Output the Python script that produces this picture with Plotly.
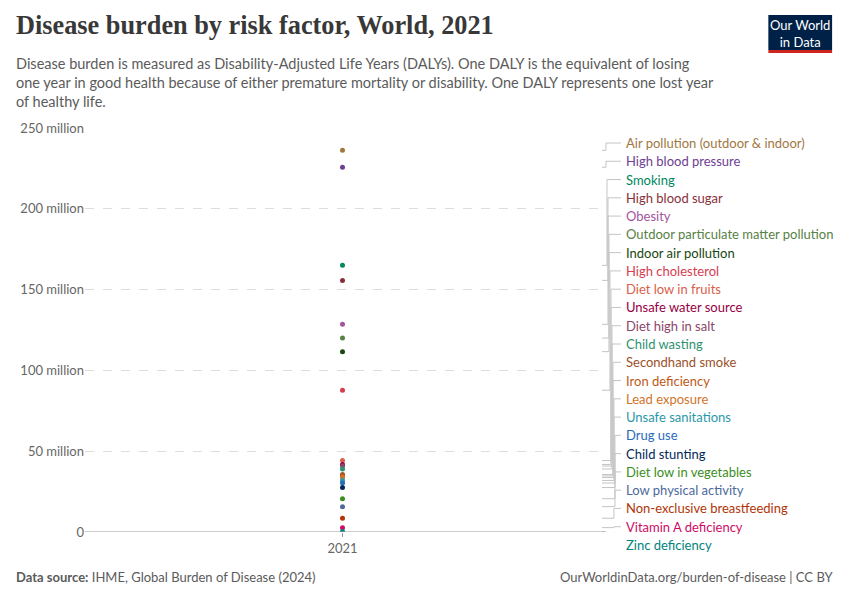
import plotly.graph_objects as go

# ---- data ----
years = ["2021"]
risk_factors = [
    "Air pollution (outdoor & indoor)", "High blood pressure", "Smoking", "High blood sugar",
    "Obesity", "Outdoor particulate matter pollution", "Indoor air pollution", "High cholesterol",
    "Diet low in fruits", "Unsafe water source", "Diet high in salt", "Child wasting",
    "Secondhand smoke", "Iron deficiency", "Lead exposure", "Unsafe sanitations", "Drug use",
    "Child stunting", "Diet low in vegetables", "Low physical activity",
    "Non-exclusive breastfeeding", "Vitamin A deficiency", "Zinc deficiency",
]
dalys_2021 = [
    236.2e6, 225.7e6, 165.0e6, 155.7e6,
    128.5e6, 120.0e6, 111.6e6, 87.7e6,
    44.2e6, 41.8e6, 40.8e6, 39.0e6,
    35.6e6, 34.7e6, 33.7e6, 31.9e6, 30.3e6,
    27.5e6, 20.6e6, 15.7e6,
    8.5e6, 2.7e6, 0.3e6,
]
colors = [
    "#a0773f", "#6D3E91", "#00875E", "#883039",
    "#A2559C", "#578145", "#18470F", "#D73C50",
    "#d9604a", "#970046", "#8C4569", "#2f9170",
    "#9A5129", "#C05917", "#D0742C", "#2a98a8", "#286BBB",
    "#00295B", "#3B8E1D", "#4C6A9C",
    "#B13507", "#CF0A66", "#00847E",
]
y_ticks = [0, 50e6, 100e6, 150e6, 200e6, 250e6]
y_tick_labels = ["0", "50 million", "100 million", "150 million", "200 million", "250 million"]

# ---- layout geometry (screen pixels; page body has an 8px margin) ----
W, H = 850, 600
OFF = 8
L, R, T, B = 83, 600, 128, 532
YMAX = 250e6


def px(p):
    return (p - L) / (R - L)


def py(p):
    return (B - p) / (B - T)


fig = go.Figure()
for name, val, col in zip(risk_factors, dalys_2021, colors):
    fig.add_trace(go.Scatter(
        x=years, y=[val], mode="markers", name=name,
        marker=dict(color=col, size=5), showlegend=False,
        hovertemplate=name + ": %{y:.3s}<extra></extra>",
    ))

# label positions and connectors
n = len(risk_factors)
label_top, label_bot = 143, 545
step = (label_bot - label_top) / (n - 1)
shapes = []
annotations = []
elbow_x = [606, 606, 607, 608, 608, 609, 609, 610, 611, 611, 612, 612, 613, 613, 614, 614, 615,
           615, 615, 615, 614, 614, 606]
for i, (name, val, col) in enumerate(zip(risk_factors, dalys_2021, colors)):
    ly_px = label_top + i * step
    ly_data = py(ly_px) * YMAX
    ex = px(elbow_x[i])
    path = f"M {px(602)},{val} L {ex},{val} L {ex},{ly_data} L {px(621)},{ly_data}"
    shapes.append(dict(type="path", xref="paper", yref="y", path=path,
                       line=dict(color="#c4c4c4", width=1), layer="below"))
    annotations.append(dict(xref="paper", yref="paper", x=px(624), y=py(ly_px), text=name,
                            showarrow=False, xanchor="left", yanchor="middle",
                            font=dict(family="Lato", size=13, color=col)))

# baseline
shapes.append(dict(type="line", xref="paper", yref="y", x0=0, x1=px(603), y0=0, y1=0,
                   line=dict(color="#9a9a9a", width=1)))

# title, subtitle
annotations.append(dict(xref="paper", yref="paper", x=px(12), y=py(25), xanchor="left", yanchor="middle",
                        text="<b>Disease burden by risk factor, World, 2021</b>", showarrow=False,
                        font=dict(family="Liberation Serif", size=26.3, color="#383838")))
subtitle = ("Disease burden is measured as Disability-Adjusted Life Years (DALYs). One DALY is the equivalent of losing<br>"
            "one year in good health because of either premature mortality or disability. One DALY represents one lost year<br>"
            "of healthy life.")
annotations.append(dict(xref="paper", yref="paper", x=px(12), y=py(53), xanchor="left", yanchor="top",
                        text=subtitle, showarrow=False, align="left",
                        font=dict(family="Lato", size=14.5, color="#5b5b5b")))
# footer
annotations.append(dict(xref="paper", yref="paper", x=px(12), y=py(577), xanchor="left", yanchor="middle",
                        text="<b>Data source:</b> IHME, Global Burden of Disease (2024)", showarrow=False,
                        font=dict(family="Lato", size=13, color="#5b5b5b")))
annotations.append(dict(xref="paper", yref="paper", x=px(836), y=py(577), xanchor="right", yanchor="middle",
                        text="OurWorldinData.org/burden-of-disease | CC BY", showarrow=False,
                        font=dict(family="Lato", size=13, color="#5b5b5b")))
# logo
shapes.append(dict(type="rect", xref="paper", yref="paper", x0=px(769), x1=px(833), y0=py(50), y1=py(15),
                   fillcolor="#002147", line=dict(width=0)))
shapes.append(dict(type="rect", xref="paper", yref="paper", x0=px(769), x1=px(833), y0=py(53), y1=py(50),
                   fillcolor="#ce261e", line=dict(width=0)))
annotations.append(dict(xref="paper", yref="paper", x=px(801), y=py(33), xanchor="center", yanchor="middle",
                        text="Our World<br>in Data", showarrow=False,
                        font=dict(family="Lato", size=13, color="white")))

fig.update_layout(
    width=W, height=H,
    margin=dict(l=L - OFF, r=W - (R - OFF), t=T - OFF, b=H - (B - OFF), pad=0),
    plot_bgcolor="white", paper_bgcolor="white",
    shapes=shapes, annotations=annotations,
    font=dict(family="Lato", size=13, color="#666666"),
    xaxis=dict(type="category", showgrid=False, zeroline=False, showline=False,
               ticks="outside", ticklen=4, tickcolor="#9a9a9a",
               tickfont=dict(family="Lato", size=13, color="#666666")),
    yaxis=dict(range=[0, YMAX], tickvals=y_ticks, ticktext=y_tick_labels,
               showgrid=True, gridcolor="#dddddd", griddash="dash", gridwidth=1,
               zeroline=False, showline=False, ticks="",
               tickfont=dict(family="Lato", size=13, color="#666666")),
)

fig.write_html("out.html")
